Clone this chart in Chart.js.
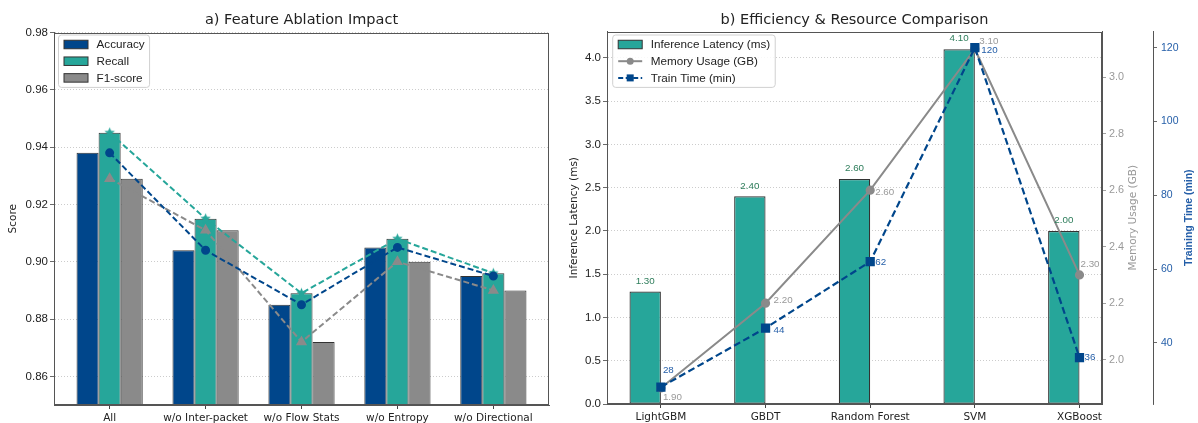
<!DOCTYPE html>
<html lang="en">
<head>
<meta charset="UTF-8">
<title>Feature Ablation and Efficiency</title>
<script src="https://cdn.jsdelivr.net/npm/chart.js"></script>
<style>
  body { margin: 0; background: #fff; }
  .wrap { position: relative; width: 1198px; height: 423px; overflow: hidden; }
  .box { position: absolute; top: 0; }
  #left { left: 0; }
  #right { left: 560px; }
</style>
</head>
<body>
<div class="wrap">
  <div class="box" id="left"><canvas id="ablation" width="590" height="423"></canvas></div>
  <div class="box" id="right"><canvas id="efficiency" width="638" height="423"></canvas></div>
</div>
<script>
// a) feature ablation
const ablationGroups = ['All', 'w/o Inter-packet', 'w/o Flow Stats', 'w/o Entropy', 'w/o Directional'];
const accuracy = [0.938, 0.904, 0.885, 0.905, 0.895];
const recall   = [0.945, 0.915, 0.889, 0.908, 0.896];
const f1Score  = [0.929, 0.911, 0.872, 0.900, 0.890];
const scoreTicks = [0.86, 0.88, 0.90, 0.92, 0.94, 0.96, 0.98];

// b) efficiency & resources
const models = ['LightGBM', 'GBDT', 'Random Forest', 'SVM', 'XGBoost'];
const latency   = [1.30, 2.40, 2.60, 4.10, 2.00];
const memory    = [1.90, 2.20, 2.60, 3.10, 2.30];
const trainTime = [28, 44, 62, 120, 36];
const latencyTicks = [0, 0.5, 1, 1.5, 2, 2.5, 3, 3.5, 4];
const memoryTicks  = [2.0, 2.2, 2.4, 2.6, 2.8, 3.0];
const trainTicks   = [40, 60, 80, 100, 120];

const NAVY = '#00468b';
const TEAL = '#26a69a';
const GREY = '#8a8a8a';
const EDGE = '#333333';
const GREEN_TXT = '#2e7d5b';
const GREY_TXT = '#999999';
const BLUE_TXT = '#245ea8';
const SANS = '"Liberation Sans", Arial, sans-serif';
const DEJAVU = '"DejaVu Sans", sans-serif';

Chart.defaults.animation = false;
Chart.defaults.font.family = SANS;
Chart.defaults.color = '#222';
Chart.defaults.plugins.legend.display = false;
Chart.defaults.plugins.tooltip.enabled = false;

// filled star marker for the recall line
function starImage(color, r) {
  const c = document.createElement('canvas');
  const s = Math.ceil(r * 2 + 2);
  c.width = c.height = s;
  const g = c.getContext('2d');
  g.beginPath();
  for (let k = 0; k < 10; k++) {
    const rad = k % 2 ? r * 0.45 : r;
    const a = -Math.PI / 2 + k * Math.PI / 5;
    g.lineTo(s / 2 + rad * Math.cos(a), s / 2 + rad * Math.sin(a));
  }
  g.closePath();
  g.fillStyle = color;
  g.fill();
  return c;
}

function xy(values, shift) {
  return values.map((v, i) => ({ x: i + shift, y: v }));
}

function categoryAxis(names, min, max, height) {
  return {
    type: 'linear', min: min, max: max, offset: false,
    afterBuildTicks: s => { s.ticks = names.map((_, i) => ({ value: i })); },
    afterFit: s => { s.height = height; },
    ticks: { callback: v => names[v], padding: 3, maxRotation: 0, autoSkip: false,
             font: { family: DEJAVU, size: 10.5 }, color: '#222' },
    grid: { offset: false, drawOnChartArea: false, tickLength: 4, tickColor: '#444' },
    border: { color: '#555', width: 1 }
  };
}

function valueAxis(opts) {
  return {
    position: opts.position || 'left',
    min: opts.min, max: opts.max,
    afterBuildTicks: s => { s.ticks = opts.ticks.map(v => ({ value: v })); },
    afterFit: s => { s.width = opts.width; },
    ticks: { callback: opts.fmt, padding: opts.pad || 2, color: opts.color || '#222',
             font: { size: opts.size || 11.5 } },
    grid: { drawOnChartArea: !!opts.grid, color: 'rgba(0,0,0,0.25)', lineWidth: 0.8,
            tickLength: 4, tickColor: opts.tickColor || '#444' },
    border: { color: '#555', width: 1, dash: [1, 2] },
    title: opts.title ? { display: true, text: opts.title, color: '#222',
                          font: { family: DEJAVU, size: 10.5 }, padding: { top: opts.titlePad, bottom: 0 } }
                      : { display: false }
  };
}

function panelTitle(text) {
  return {
    id: 'panelTitle',
    afterDraw(chart) {
      const { ctx, chartArea: a } = chart;
      ctx.save();
      ctx.font = '14.5px ' + DEJAVU;
      ctx.fillStyle = '#222';
      ctx.textAlign = 'center';
      ctx.textBaseline = 'middle';
      ctx.fillText(text, (a.left + a.right) / 2, 20.5);
      ctx.restore();
    }
  };
}

// matplotlib style box around the axes
const frame = {
  id: 'frame',
  afterDatasetsDraw(chart) {
    const { ctx, chartArea: a } = chart;
    ctx.save();
    ctx.strokeStyle = '#555';
    ctx.lineWidth = 1;
    const l = Math.round(a.left) + 0.5, t = Math.round(a.top) + 0.5;
    const r = Math.round(a.right) - 0.5, b = Math.round(a.bottom) - 0.5;
    ctx.strokeRect(l, t, r - l, b - t);
    ctx.restore();
  }
};

function roundBox(ctx, x, y, w, h, r) {
  ctx.beginPath();
  ctx.moveTo(x + r, y);
  ctx.lineTo(x + w - r, y);
  ctx.quadraticCurveTo(x + w, y, x + w, y + r);
  ctx.lineTo(x + w, y + h - r);
  ctx.quadraticCurveTo(x + w, y + h, x + w - r, y + h);
  ctx.lineTo(x + r, y + h);
  ctx.quadraticCurveTo(x, y + h, x, y + h - r);
  ctx.lineTo(x, y + r);
  ctx.quadraticCurveTo(x, y, x + r, y);
  ctx.closePath();
}

function legendBox(rows, dx, dy) {
  return {
    id: 'legendBox',
    afterDraw(chart) {
      const { ctx, chartArea: a } = chart;
      ctx.save();
      ctx.font = '11.7px ' + SANS;
      const textW = Math.max(...rows.map(r => ctx.measureText(r.label).width));
      const x = a.left + dx, y = a.top + dy;
      const gap = 16.7, pad = 9.5;
      const w = 38 + textW + 5, h = pad * 2 + gap * (rows.length - 1);
      roundBox(ctx, x, y, w, h, 3);
      ctx.fillStyle = 'rgba(255,255,255,0.85)';
      ctx.fill();
      ctx.strokeStyle = '#d0d0d0';
      ctx.lineWidth = 1;
      ctx.stroke();
      rows.forEach((r, i) => {
        const cy = y + pad + gap * i;
        const hx = x + 5.5;
        r.draw(ctx, hx, cy);
        ctx.fillStyle = '#222';
        ctx.textAlign = 'left';
        ctx.textBaseline = 'middle';
        ctx.fillText(r.label, x + 38, cy + 0.5);
      });
      ctx.restore();
    }
  };
}

function patch(color) {
  return (ctx, x, cy) => {
    ctx.fillStyle = color;
    ctx.fillRect(x, cy - 4.25, 24, 8.5);
    ctx.strokeStyle = EDGE;
    ctx.lineWidth = 1;
    ctx.strokeRect(x, cy - 4.25, 24, 8.5);
  };
}

function lineHandle(color, dash, marker) {
  return (ctx, x, cy) => {
    ctx.strokeStyle = color;
    ctx.lineWidth = 2;
    ctx.setLineDash(dash);
    ctx.beginPath();
    ctx.moveTo(x, cy);
    ctx.lineTo(x + 24, cy);
    ctx.stroke();
    ctx.setLineDash([]);
    ctx.fillStyle = color;
    if (marker === 'circle') {
      ctx.beginPath();
      ctx.arc(x + 12, cy, 3.5, 0, Math.PI * 2);
      ctx.fill();
    } else {
      ctx.fillRect(x + 8.5, cy - 3.5, 7, 7);
    }
  };
}

// ---------- a) Feature Ablation Impact ----------
new Chart(document.getElementById('ablation'), {
  type: 'bar',
  data: {
    datasets: [
      { label: 'Accuracy', data: xy(accuracy, 0), backgroundColor: NAVY, borderColor: EDGE,
        borderWidth: 1, borderSkipped: false, order: 2 },
      { label: 'Recall', data: xy(recall, 0), backgroundColor: TEAL, borderColor: EDGE,
        borderWidth: 1, borderSkipped: false, order: 2 },
      { label: 'F1-score', data: xy(f1Score, 0), backgroundColor: GREY, borderColor: EDGE,
        borderWidth: 1, borderSkipped: false, order: 2 },
      { type: 'line', data: xy(accuracy, 0), borderColor: NAVY, borderWidth: 2, borderDash: [6, 3],
        pointStyle: 'circle', pointRadius: 3.5, pointBackgroundColor: NAVY, pointBorderColor: NAVY, order: 1 },
      { type: 'line', data: xy(recall, 0), borderColor: TEAL, borderWidth: 2, borderDash: [6, 3],
        pointStyle: starImage(TEAL, 5.5), pointRadius: 4, order: 1 },
      { type: 'line', data: xy(f1Score, 0), borderColor: GREY, borderWidth: 2, borderDash: [6, 3],
        pointStyle: 'triangle', pointRadius: 4.5, pointBackgroundColor: GREY, pointBorderColor: GREY, order: 1 }
    ]
  },
  options: {
    responsive: false,
    layout: { padding: { top: 32.5, right: 41, bottom: 0, left: 0 } },
    datasets: { bar: { categoryPercentage: 0.69, barPercentage: 1 } },
    scales: {
      x: categoryAxis(ablationGroups, -0.58, 4.58, 18),
      y: valueAxis({ min: 0.85, max: 0.98, ticks: scoreTicks, width: 54, grid: true,
                     fmt: v => v.toFixed(2), title: 'Score', titlePad: 7 })
    }
  },
  plugins: [frame, panelTitle('a) Feature Ablation Impact'),
    legendBox([
      { label: 'Accuracy', draw: patch(NAVY) },
      { label: 'Recall', draw: patch(TEAL) },
      { label: 'F1-score', draw: patch(GREY) }
    ], 4.5, 2.5)]
});

// ---------- b) Efficiency & Resource Comparison ----------
const memOffsets   = [[2, 9], [8, -2.5], [5, 2.4], [4.5, -8], [1, -10.7]];
const trainOffsets = [[2, -17], [8, 2], [5, 1], [6.5, 3], [5, 0]];

const valueLabels = {
  id: 'valueLabels',
  afterDatasetsDraw(chart) {
    const ctx = chart.ctx;
    ctx.save();
    ctx.font = '9.8px ' + SANS;
    ctx.textBaseline = 'middle';
    ctx.textAlign = 'center';
    ctx.fillStyle = GREEN_TXT;
    chart.getDatasetMeta(0).data.forEach((b, i) => ctx.fillText(latency[i].toFixed(2), b.x, b.y - 10.5));
    ctx.textAlign = 'left';
    ctx.fillStyle = GREY_TXT;
    chart.getDatasetMeta(1).data.forEach((p, i) =>
      ctx.fillText(memory[i].toFixed(2), p.x + memOffsets[i][0], p.y + memOffsets[i][1]));
    ctx.fillStyle = BLUE_TXT;
    chart.getDatasetMeta(2).data.forEach((p, i) =>
      ctx.fillText(String(trainTime[i]), p.x + trainOffsets[i][0], p.y + trainOffsets[i][1]));
    ctx.restore();
  }
};

const sideTitles = {
  id: 'sideTitles',
  afterDraw(chart) {
    const { ctx, chartArea: a, scales } = chart;
    const cy = (a.top + a.bottom) / 2;
    [[scales.y1, 31, 'Memory Usage (GB)', '10.5px ' + DEJAVU, GREY_TXT],
     [scales.y2, 36, 'Training Time (min)', 'bold 10.5px ' + SANS, BLUE_TXT]].forEach(([s, dx, text, font, color]) => {
      ctx.save();
      ctx.translate(s.left + dx, cy);
      ctx.rotate(-Math.PI / 2);
      ctx.font = font;
      ctx.fillStyle = color;
      ctx.textAlign = 'center';
      ctx.textBaseline = 'middle';
      ctx.fillText(text, 0, 0);
      ctx.restore();
    });
  }
};

new Chart(document.getElementById('efficiency'), {
  type: 'bar',
  data: {
    datasets: [
      { label: 'Inference Latency (ms)', data: xy(latency, -0.15), backgroundColor: TEAL,
        borderColor: EDGE, borderWidth: 1.2, borderSkipped: false, yAxisID: 'y', order: 3 },
      { type: 'line', label: 'Memory Usage (GB)', data: xy(memory, 0), yAxisID: 'y1',
        borderColor: GREY, borderWidth: 2, pointStyle: 'circle', pointRadius: 3.6,
        pointBackgroundColor: GREY, pointBorderColor: GREY, order: 2 },
      { type: 'line', label: 'Train Time (min)', data: xy(trainTime, 0), yAxisID: 'y2',
        borderColor: NAVY, borderWidth: 2.2, borderDash: [7, 3.5], pointStyle: 'rect', pointRadius: 5,
        pointBackgroundColor: NAVY, pointBorderColor: NAVY, order: 1 }
    ]
  },
  options: {
    responsive: false,
    layout: { padding: { top: 31.5, right: 0, bottom: 0, left: 0 } },
    datasets: { bar: { categoryPercentage: 0.3, barPercentage: 1 } },
    scales: {
      x: categoryAxis(models, -0.515, 4.215, 19),
      y: valueAxis({ min: 0, max: 4.305, ticks: latencyTicks, width: 47, grid: true,
                     fmt: v => v.toFixed(1), title: 'Inference Latency (ms)', titlePad: 8 }),
      y1: valueAxis({ position: 'right', min: 1.843, max: 3.162, ticks: memoryTicks, width: 51,
                      fmt: v => v.toFixed(1), color: GREY_TXT, size: 10.8, pad: 3, tickColor: '#888' }),
      y2: valueAxis({ position: 'right', min: 23.4, max: 124.4, ticks: trainTicks, width: 45,
                      fmt: v => String(v), color: BLUE_TXT, size: 10.5, pad: 4 })
    }
  },
  plugins: [frame, valueLabels, sideTitles, panelTitle('b) Efficiency & Resource Comparison'),
    legendBox([
      { label: 'Inference Latency (ms)', draw: patch(TEAL) },
      { label: 'Memory Usage (GB)', draw: lineHandle(GREY, [], 'circle') },
      { label: 'Train Time (min)', draw: lineHandle(NAVY, [5, 2.5], 'square') }
    ], 5.7, 3.5)]
});
</script>
</body>
</html>
